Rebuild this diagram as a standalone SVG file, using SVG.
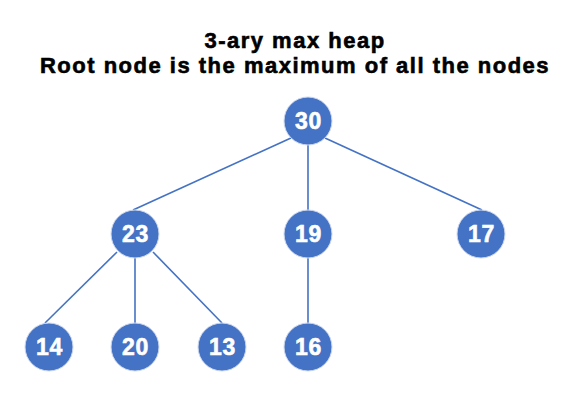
<svg xmlns="http://www.w3.org/2000/svg" width="588" height="415" viewBox="0 0 588 415">
<style>
.title{font-family:"Liberation Sans",Arial,sans-serif;font-weight:bold;font-size:22px;letter-spacing:1.5px;fill:#000;stroke:#000;stroke-width:0.6px;text-anchor:middle}
.node circle{fill:#4472C4;stroke:#D0DAEE;stroke-width:1}
.node text{font-family:"Liberation Sans",Arial,sans-serif;font-weight:bold;font-size:23px;letter-spacing:0.8px;fill:#fff;stroke:#fff;stroke-width:0.6px;text-anchor:middle}
.edges line{stroke:#4472C4;stroke-width:1.6}
</style>
<rect width="588" height="415" fill="#fff"/>
<g id="title">
<text class="title" x="295" y="48">3-ary max heap</text>
<text class="title" x="295" y="73">Root node is the maximum of all the nodes</text>
</g>
<g id="edges" class="edges">
<line x1="291" y1="138" x2="133" y2="210"/>
<line x1="308" y1="145" x2="308" y2="210"/>
<line x1="325" y1="138" x2="482" y2="210"/>
<line x1="117" y1="252" x2="45" y2="323"/>
<line x1="135" y1="258" x2="135" y2="323"/>
<line x1="153" y1="252" x2="222" y2="323"/>
<line x1="308" y1="258" x2="308" y2="323"/>
</g>
<g id="n30" class="node"><circle cx="308" cy="121" r="24"/><text x="308.5" y="128.5">30</text></g>
<g id="n23" class="node"><circle cx="135" cy="234" r="24"/><text x="135.5" y="241.5">23</text></g>
<g id="n19" class="node"><circle cx="308" cy="234" r="24"/><text x="308.5" y="241.5">19</text></g>
<g id="n17" class="node"><circle cx="481" cy="234" r="24"/><text x="481.5" y="241.5">17</text></g>
<g id="n14" class="node"><circle cx="49" cy="347" r="24"/><text x="49.5" y="354.5">14</text></g>
<g id="n20" class="node"><circle cx="135" cy="347" r="24"/><text x="135.5" y="354.5">20</text></g>
<g id="n13" class="node"><circle cx="222" cy="347" r="24"/><text x="222.5" y="354.5">13</text></g>
<g id="n16" class="node"><circle cx="308" cy="347" r="24"/><text x="308.5" y="354.5">16</text></g>
</svg>
